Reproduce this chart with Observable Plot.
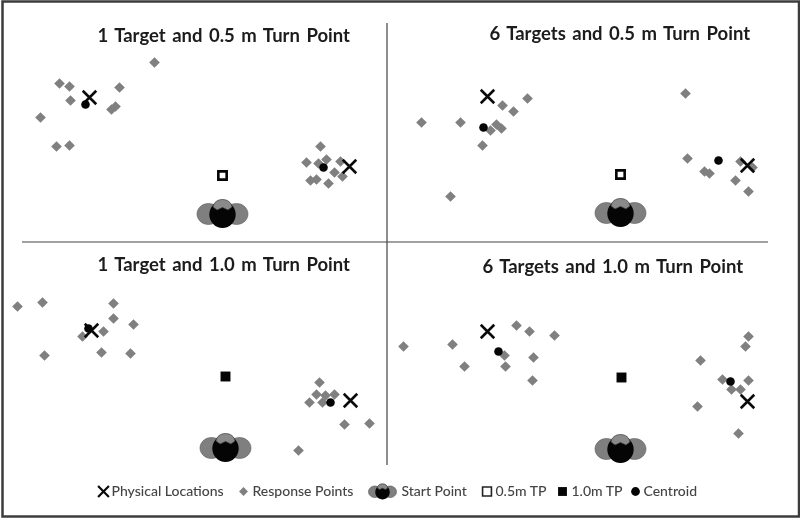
<!DOCTYPE html>
<html>
<head>
<meta charset="utf-8">
<style>html,body{margin:0;padding:0;background:#fff}svg{display:block;filter:blur(0.45px)}.panel-title text,text.panel-title,.panel-title{word-spacing:2px}</style>
<script src="https://cdn.jsdelivr.net/npm/d3@7"></script>
<script src="https://cdn.jsdelivr.net/npm/@observablehq/plot@0.6"></script>
</head>
<body>
<script>
const titles = [
  ["1 Target and 0.5 m Turn Point", 97, 36],
  ["6 Targets and 0.5 m Turn Point", 489, 34],
  ["1 Target and 1.0 m Turn Point", 97, 265],
  ["6 Targets and 1.0 m Turn Point", 482, 267]
];
const responses1 = [[154,62],[59,83],[69,86],[70,100],[119,87],[115,106],[111,109],[40,117],[56,146],[69,145],[320,146],[326,159],[318,163],[306,162],[340,161],[334,172],[342,176],[310,180],[316,179],[328,183]];
const responses2 = [[421,122],[460,122],[502,105],[513,111],[527,98],[496,124],[490,130],[501,128],[482,145],[450,196],[685,93],[687,158],[704,171],[709,173],[740,161],[752,167],[735,180],[748,191]];
const responses3 = [[17,306],[42,302],[113,303],[113,318],[133,324],[103,331],[82,336],[44,355],[101,352],[130,353],[319,382],[316,394],[325,395],[334,394],[322,402],[309,402],[344,424],[369,423],[298,450]];
const responses4 = [[403,346],[452,344],[516,325],[529,331],[554,335],[504,355],[533,357],[464,366],[505,366],[532,380],[748,336],[745,346],[700,360],[722,379],[748,380],[731,389],[740,389],[697,406],[738,433]];
const physical = [[89,97],[349,166],[487,96],[747,165],[91,330],[350,400],[487,331],[747,401]];
const centroids = [[85,104],[323,167],[483,127],[718,160],[88,328],[330,402],[498,351],[730,381]];
const turnPoints05 = [[222,175],[620,174]];
const turnPoints10 = [[225,376],[621,377]];
const startPoints = [[222,213],[620,212],[225,447],[620,448]];
const legendLabels = [
  ["Physical Locations", 111],
  ["Response Points", 252],
  ["Start Point", 401],
  ["0.5m TP", 495],
  ["1.0m TP", 571],
  ["Centroid", 643]
];
const legendY = 491;

const responses = [...responses1, ...responses2, ...responses3, ...responses4];

function ell(c, s, cx, cy, rx, ry) {
  const k = 0.5523;
  c.moveTo(s*(cx+rx), s*cy);
  c.bezierCurveTo(s*(cx+rx), s*(cy+k*ry), s*(cx+k*rx), s*(cy+ry), s*cx, s*(cy+ry));
  c.bezierCurveTo(s*(cx-k*rx), s*(cy+ry), s*(cx-rx), s*(cy+k*ry), s*(cx-rx), s*cy);
  c.bezierCurveTo(s*(cx-rx), s*(cy-k*ry), s*(cx-k*rx), s*(cy-ry), s*cx, s*(cy-ry));
  c.bezierCurveTo(s*(cx+k*rx), s*(cy-ry), s*(cx+rx), s*(cy-k*ry), s*(cx+rx), s*cy);
  c.closePath();
}
const unit = size => Math.sqrt(size / Math.PI);
const lobes = {draw(c, size) { const s = unit(size); ell(c, s, -14, 0.5, 11.5, 10.5); ell(c, s, 14, 0.5, 11.5, 10.5); }};
const skull = {draw(c, size) { const s = unit(size); ell(c, s, 0, 1, 13.2, 13.5); }};
const cap = {draw(c, size) {
  const s = unit(size);
  c.moveTo(0, -14*s);
  c.bezierCurveTo(5*s, -14*s, 9*s, -11*s, 9.5*s, -6.5*s);
  c.lineTo(5.5*s, -3.5*s);
  c.lineTo(0, -6*s);
  c.lineTo(-5.5*s, -3.5*s);
  c.lineTo(-9.5*s, -6.5*s);
  c.bezierCurveTo(-9*s, -11*s, -5*s, -14*s, 0, -14*s);
  c.closePath();
}};
const px = d => d[0], py = d => d[1];
const headMarks = (data, r) => [
  Plot.dot(data, {x: px, y: py, r, symbol: lobes, fill: "#7f7f7f", stroke: "#5a5a5a", strokeWidth: 0.6}),
  Plot.dot(data, {x: px, y: py, r, symbol: skull, fill: "#050505", stroke: "none"}),
  Plot.dot(data, {x: px, y: py, r, symbol: cap, fill: "#8a8a8a", stroke: "#3a3a3a", strokeWidth: 0.7})
];

const ly = x => [[x, legendY]];
const chart = Plot.plot({
  width: 800, height: 518, margin: 0,
  x: {domain: [0, 800], range: [0, 800], axis: null},
  y: {domain: [0, 518], range: [0, 518], axis: null},
  marks: [
    Plot.frame({stroke: "#3c3c3c", strokeWidth: 2.5, insetTop: 1, insetLeft: 2, insetBottom: 2, insetRight: 1.5}),
    Plot.ruleX([386.5], {y1: 23, y2: 465, stroke: "#444", strokeWidth: 1.2}),
    Plot.ruleY([241.5], {x1: 22, x2: 768, stroke: "#444", strokeWidth: 1.2}),
    Plot.text(titles, {x: d => d[1], y: d => d[2], text: d => d[0], textAnchor: "start", fontFamily: "Lato", fontWeight: 700, fontSize: 18.5, fill: "#1c1c1c", className: "panel-title"}),
    Plot.dot(responses, {x: px, y: py, r: 4.8, symbol: "diamond2", fill: "#808080", stroke: "none"}),
    ...headMarks(startPoints, 1),
    Plot.dot(physical, {x: px, y: py, r: 6.2, symbol: "times", stroke: "#0a0a0a", strokeWidth: 2.6}),
    Plot.dot(centroids, {x: px, y: py, r: 4.3, symbol: "circle", fill: "#050505", stroke: "none"}),
    Plot.dot(turnPoints05, {x: px, y: py, r: 4.7, symbol: "square", fill: "#fff", stroke: "#050505", strokeWidth: 2.6}),
    Plot.dot(turnPoints10, {x: px, y: py, r: 5.6, symbol: "square", fill: "#050505", stroke: "none"}),
    // legend
    Plot.dot(ly(103), {x: px, y: py, r: 5, symbol: "times", stroke: "#0a0a0a", strokeWidth: 2.2}),
    Plot.dot(ly(243), {x: px, y: py, r: 4, symbol: "diamond2", fill: "#808080", stroke: "none"}),
    ...headMarks(ly(382), 0.55),
    Plot.dot(ly(486.5), {x: px, y: py, r: 5, symbol: "square", fill: "#fff", stroke: "#222", strokeWidth: 1.6}),
    Plot.dot(ly(562), {x: px, y: py, r: 5, symbol: "square", fill: "#050505", stroke: "none"}),
    Plot.dot(ly(635), {x: px, y: py, r: 4.4, symbol: "circle", fill: "#050505", stroke: "none"}),
    Plot.text(legendLabels, {x: d => d[1], y: legendY, text: d => d[0], textAnchor: "start", fontFamily: "Lato", fontWeight: 500, fontSize: 14, fill: "#444"})
  ]
});
document.body.appendChild(chart);
</script>
</body>
</html>
